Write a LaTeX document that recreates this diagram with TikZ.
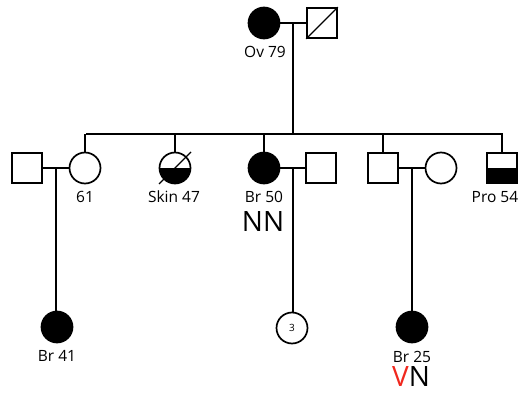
\documentclass[tikz,border=0pt]{standalone}
\usepackage{fontspec}
\setmainfont{Open Sans}
\usetikzlibrary{calc}
\definecolor{vred}{RGB}{240,40,30}
\begin{document}
\begin{tikzpicture}[x=1pt,y=-1pt,
  line width=1.7pt,
  female/.style={circle,draw,minimum size=31pt,inner sep=0pt},
  male/.style={rectangle,draw,minimum size=30pt,inner sep=0pt},
  affected/.style={fill=black},
  halfaff/.style={path picture={\fill (path picture bounding box.west) rectangle (path picture bounding box.south east);}},
  slash/.style={line width=1.4pt},
  lbl/.style={font=\fontsize{15.5}{17}\selectfont,inner sep=0pt},
  big/.style={font=\fontsize{28}{30}\selectfont,inner sep=0pt},
  tiny/.style={font=\fontsize{10}{11}\selectfont,inner sep=0pt},
]
\useasboundingbox (0,0) rectangle (519,393);

% generation I
\node[female,affected] (ov) at (264,23) {};
\node[male] (ovh) at (322,23) {};
\draw[slash] (ovh.south west) -- (ovh.north east);
\node[lbl] (ovl) at (265,52) {Ov 79};

% generation II
\node[male] (h61) at (27,168) {};
\node[female] (w61) at (85,168) {};
\node[lbl] (l61) at (85,197) {61};
\node[female,halfaff] (skin) at (175,168) {};
\draw[slash] ([shift={(-16,16)}]skin.center) coordinate (skA) -- ([shift={(16,-16)}]skin.center) coordinate (skB);
\node[lbl] (lskin) at (174,197) {Skin 47};
\node[female,affected] (br50) at (264,168) {};
\node[lbl] (lbr50) at (264,197) {Br 50};
\node[big] (nn) at (263,222) {NN};
\node[male] (h50) at (321,168) {};
\node[male] (son) at (383,168) {};
\node[female] (wson) at (441,168) {};
\node[male,halfaff] (pro) at (502,168) {};
\node[lbl,anchor=east] (lpro) at (519,197) {Pro 54};

% generation III
\node[female,affected] (br41) at (57,327) {};
\node[lbl] (lbr41) at (57,356) {Br 41};
\node[female] (three) at (292,328) {};
\node[tiny] at (three.center) {3};
\node[female,affected] (br25) at (412,327) {};
\node[lbl] (lbr25) at (412,357) {Br 25};
\node[big] (vn) at (411,377) {\textcolor{vred}{V}N};

% marriage lines and lines of descent
\draw (ov) -- (ovh);
\coordinate (m0) at ($(ov.east)!0.5!(ovh.west)$);
\coordinate (sibL) at (86,134);
\coordinate (sibR) at (503,134);
\draw (m0) -- (m0 |- sibL);
\draw (sibL) -- (sibR);
\foreach \c in {w61,skin,br50,son,pro}
  \draw (\c.north) -- (\c.north |- sibL);

\draw (h61) -- (w61);
\coordinate (m1) at ($(h61.east)!0.5!(w61.west)$);
\draw (m1) -- (m1 |- br41.north);

\draw (br50) -- (h50);
\coordinate (m2) at ($(br50.east)!0.5!(h50.west)$);
\draw (m2) -- (m2 |- three.north);

\draw (son) -- (wson);
\coordinate (m3) at ($(son.east)!0.5!(wson.west)$);
\draw (m3) -- (m3 |- br25.north);
\end{tikzpicture}
\end{document}
